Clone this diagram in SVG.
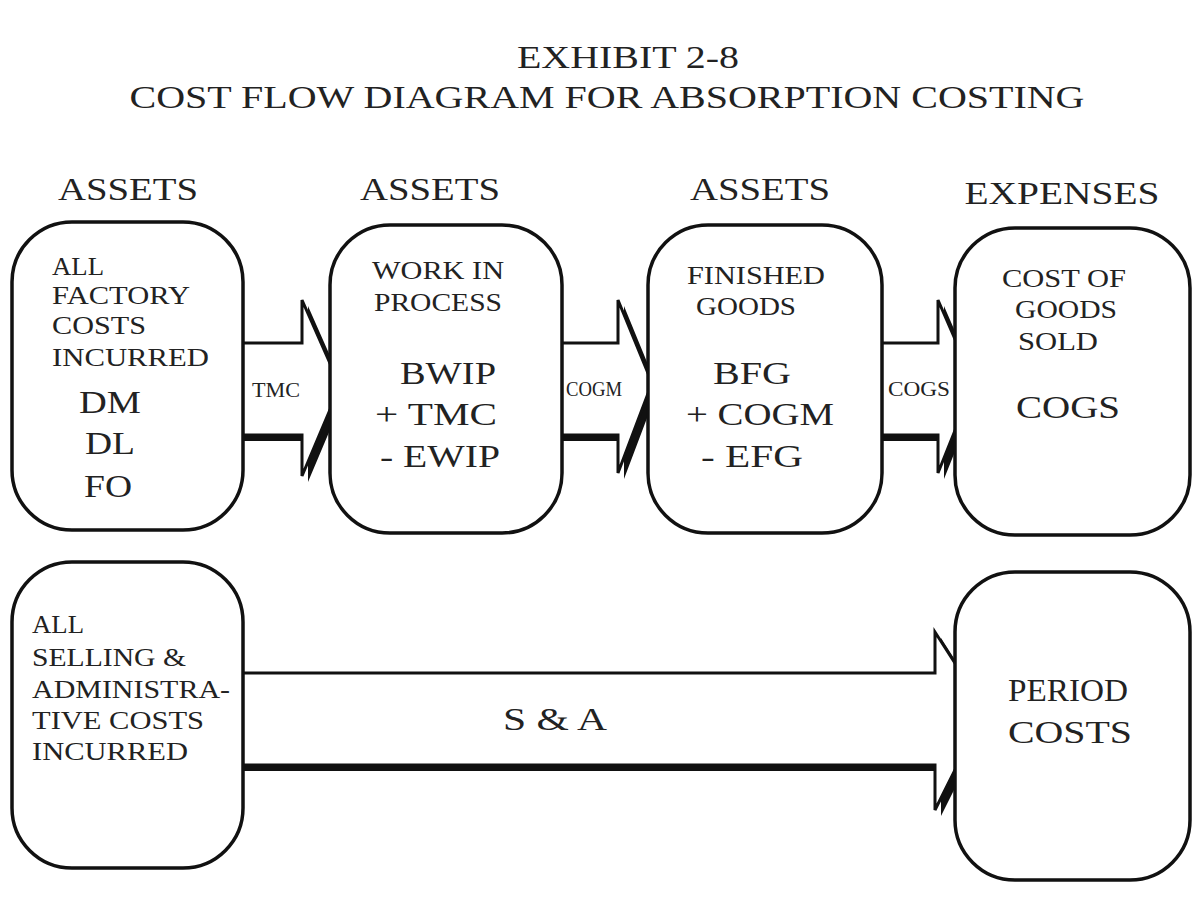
<svg xmlns="http://www.w3.org/2000/svg" width="1200" height="903" viewBox="0 0 1200 903">
<style>
text{font-family:"Liberation Serif","Times New Roman",serif;fill:#222}
.t{font-size:32px;text-anchor:middle}
.h{font-size:31px;text-anchor:middle}
.s{font-size:26px}
.b{font-size:32px;text-anchor:middle}
.box{fill:#fff;stroke:#111;stroke-width:3.5}
.ar{fill:#fff;stroke:#111;stroke-width:3}
.sh{fill:#111}
</style>
<rect width="1200" height="903" fill="#fff"/>
<text class="t" x="628" y="68" textLength="222" lengthAdjust="spacingAndGlyphs">EXHIBIT 2-8</text>
<text class="t" x="607" y="108" textLength="955" lengthAdjust="spacingAndGlyphs">COST FLOW DIAGRAM FOR ABSORPTION COSTING</text>
<text class="h" x="128" y="200" textLength="140" lengthAdjust="spacingAndGlyphs">ASSETS</text>
<text class="h" x="430" y="200" textLength="140" lengthAdjust="spacingAndGlyphs">ASSETS</text>
<text class="h" x="760" y="200" textLength="140" lengthAdjust="spacingAndGlyphs">ASSETS</text>
<text class="h" x="1062" y="204" textLength="195" lengthAdjust="spacingAndGlyphs">EXPENSES</text>
<g id="connectors">
<polygon class="sh" points="236,349 308,349 308,306 346,392 308,482 308,441 236,441"/>
<polygon class="ar" points="232,343 302,343 302,300 340,386 302,476 302,435 232,435"/>
<text x="252" y="397" style="font-size:20px" textLength="48" lengthAdjust="spacingAndGlyphs">TMC</text>
<polygon class="sh" points="556,349 624,349 624,306 658,389 624,479 624,441 556,441"/>
<polygon class="ar" points="552,343 618,343 618,300 652,383 618,473 618,435 552,435"/>
<text x="566" y="396" style="font-size:20px" textLength="56" lengthAdjust="spacingAndGlyphs">COGM</text>
<polygon class="sh" points="876,349 944,349 944,306 980,389 944,479 944,441 876,441"/>
<polygon class="ar" points="872,343 938,343 938,300 974,383 938,473 938,435 872,435"/>
<text x="888" y="396" style="font-size:20px" textLength="62" lengthAdjust="spacingAndGlyphs">COGS</text>
<polygon class="sh" points="236,679 941,679 941,638 991,716 941,816 941,771 236,771"/>
<polygon class="ar" points="232,673 935,673 935,632 985,710 935,810 935,765 232,765"/>
<text x="555" y="730" class="b" textLength="104" lengthAdjust="spacingAndGlyphs">S &amp; A</text>
</g>
<g id="n1"><rect class="box" x="12" y="222" width="231" height="308" rx="60"/>
<text class="s" x="52" y="275" textLength="52" lengthAdjust="spacingAndGlyphs">ALL</text><text class="s" x="52" y="304" textLength="138" lengthAdjust="spacingAndGlyphs">FACTORY</text><text class="s" x="52" y="334" textLength="94" lengthAdjust="spacingAndGlyphs">COSTS</text><text class="s" x="52" y="366" textLength="157" lengthAdjust="spacingAndGlyphs">INCURRED</text>
<text class="b" x="110" y="413" textLength="62" lengthAdjust="spacingAndGlyphs">DM</text><text class="b" x="110" y="454" textLength="50" lengthAdjust="spacingAndGlyphs">DL</text><text class="b" x="108" y="497" textLength="48" lengthAdjust="spacingAndGlyphs">FO</text></g>
<g id="n2"><rect class="box" x="330" y="225" width="232" height="308" rx="60"/>
<text class="s" x="438" y="279" text-anchor="middle" textLength="132" lengthAdjust="spacingAndGlyphs">WORK IN</text><text class="s" x="438" y="311" text-anchor="middle" textLength="128" lengthAdjust="spacingAndGlyphs">PROCESS</text>
<text class="b" x="448" y="384" textLength="96" lengthAdjust="spacingAndGlyphs">BWIP</text><text class="b" x="436" y="425" textLength="122" lengthAdjust="spacingAndGlyphs">+ TMC</text><text class="b" x="440" y="467" textLength="120" lengthAdjust="spacingAndGlyphs">- EWIP</text></g>
<g id="n3"><rect class="box" x="648" y="225" width="234" height="308" rx="60"/>
<text class="s" x="756" y="284" text-anchor="middle" textLength="138" lengthAdjust="spacingAndGlyphs">FINISHED</text><text class="s" x="746" y="315" text-anchor="middle" textLength="100" lengthAdjust="spacingAndGlyphs">GOODS</text>
<text class="b" x="752" y="384" textLength="78" lengthAdjust="spacingAndGlyphs">BFG</text><text class="b" x="760" y="425" textLength="148" lengthAdjust="spacingAndGlyphs">+ COGM</text><text class="b" x="752" y="467" textLength="102" lengthAdjust="spacingAndGlyphs">- EFG</text></g>
<g id="n4"><rect class="box" x="955" y="228" width="235" height="307" rx="60"/>
<text class="s" x="1064" y="287" text-anchor="middle" textLength="124" lengthAdjust="spacingAndGlyphs">COST OF</text><text class="s" x="1066" y="318" text-anchor="middle" textLength="102" lengthAdjust="spacingAndGlyphs">GOODS</text><text class="s" x="1058" y="350" text-anchor="middle" textLength="80" lengthAdjust="spacingAndGlyphs">SOLD</text>
<text class="b" x="1068" y="418" textLength="104" lengthAdjust="spacingAndGlyphs">COGS</text></g>
<g id="n5"><rect class="box" x="12" y="562" width="231" height="306" rx="60"/>
<text class="s" x="32" y="633" textLength="52" lengthAdjust="spacingAndGlyphs">ALL</text><text class="s" x="32" y="666" textLength="154" lengthAdjust="spacingAndGlyphs">SELLING &amp;</text><text class="s" x="32" y="698" textLength="198" lengthAdjust="spacingAndGlyphs">ADMINISTRA-</text><text class="s" x="32" y="729" textLength="172" lengthAdjust="spacingAndGlyphs">TIVE COSTS</text><text class="s" x="32" y="760" textLength="156" lengthAdjust="spacingAndGlyphs">INCURRED</text></g>
<g id="n6"><rect class="box" x="955" y="572" width="235" height="308" rx="60"/>
<text class="b" x="1068" y="701" textLength="120" lengthAdjust="spacingAndGlyphs">PERIOD</text><text class="b" x="1070" y="743" textLength="124" lengthAdjust="spacingAndGlyphs">COSTS</text></g>
</svg>
